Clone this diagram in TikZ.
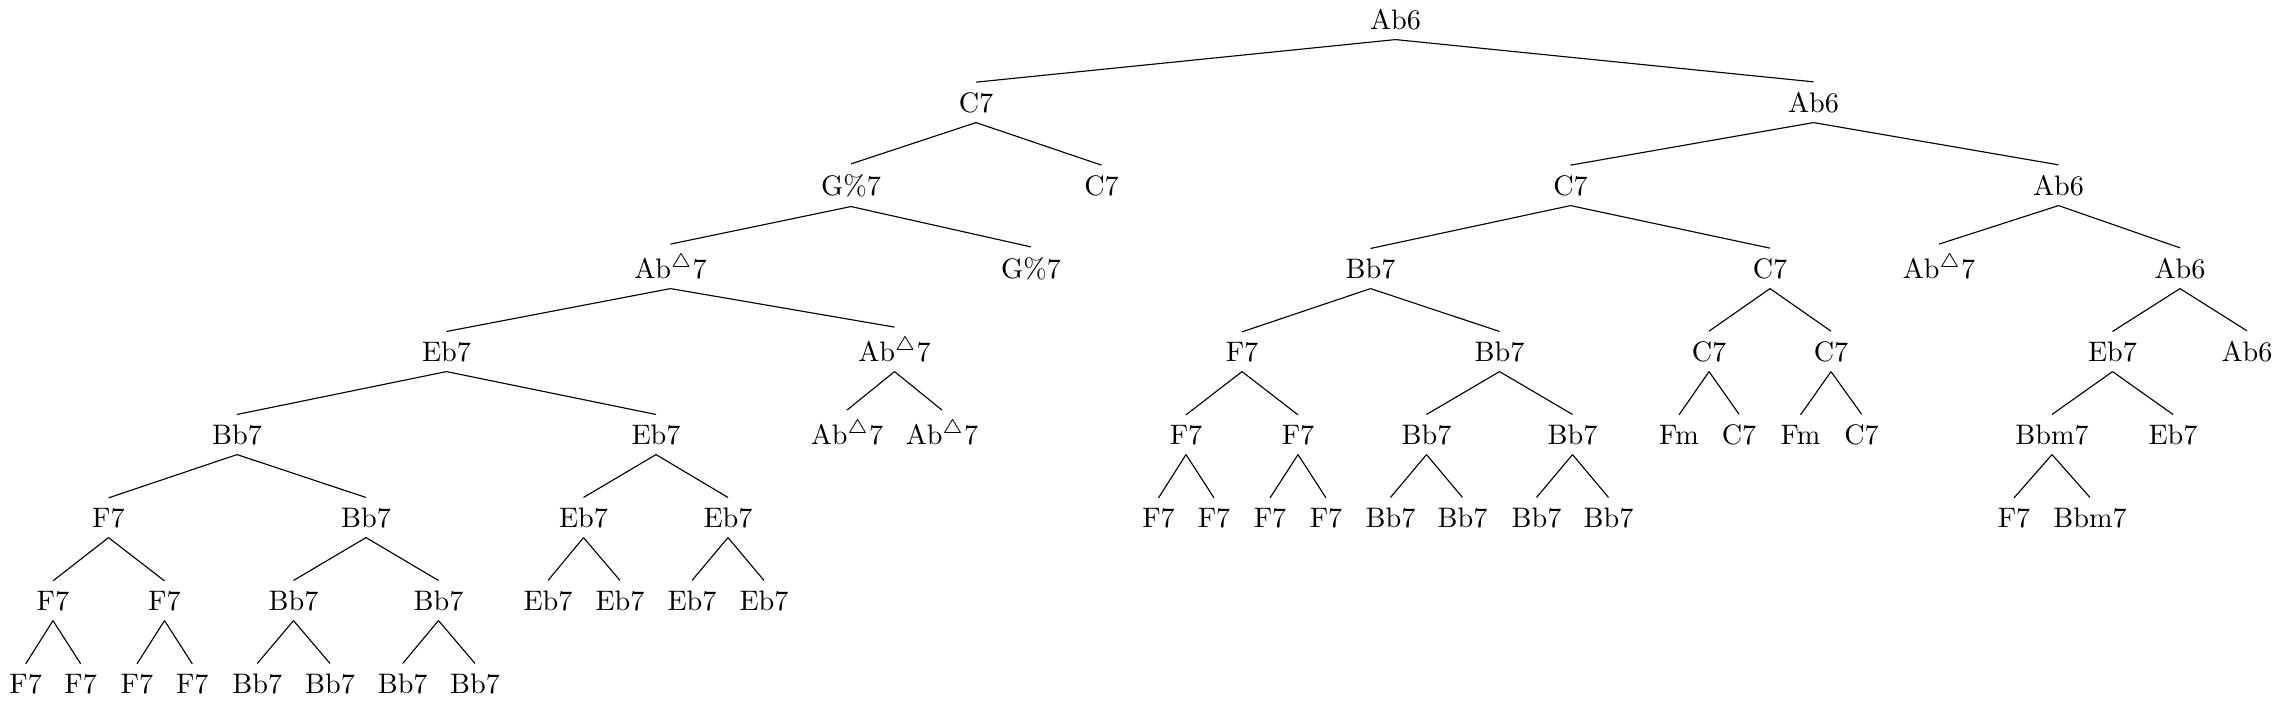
\documentclass[tikz,border=0pt]{standalone}
\begin{document}
\begin{tikzpicture}[x=0.35461pt,y=-0.35461pt,
  chord/.style={anchor=base,inner sep=0.3333em},
  branch/.style={line width=0.4pt}]
\useasboundingbox (0,0) rectangle (2281,702);
\def\AbM{Ab$^{\triangle}$7}
% level 0
\node[chord] (r) at (1395.5,29) {Ab6};
% level 1
\node[chord] (r0) at (976,112) {C7};
\node[chord] (r1) at (1813.5,112) {Ab6};
% level 2
\node[chord] (r00) at (851,195) {G\%7};
\node[chord] (r01) at (1101.5,195) {C7};
\node[chord] (r10) at (1570.5,195) {C7};
\node[chord] (r11) at (2058.5,195) {Ab6};
% level 3
\node[chord] (r000) at (670.5,278) {\AbM};
\node[chord] (r001) at (1031,278) {G\%7};
\node[chord] (r100) at (1370.5,278) {Bb7};
\node[chord] (r101) at (1770,278) {C7};
\node[chord] (r110) at (1939,278) {\AbM};
\node[chord] (r111) at (2180,278) {Ab6};
% level 4
\node[chord] (r0000) at (446.5,361) {Eb7};
\node[chord] (r0001) at (894.5,361) {\AbM};
\node[chord] (r1000) at (1242,361) {F7};
\node[chord] (r1001) at (1499.5,361) {Bb7};
\node[chord] (r1010) at (1709,361) {C7};
\node[chord] (r1011) at (1831,361) {C7};
\node[chord] (r1110) at (2112.5,361) {Eb7};
\node[chord] (r1111) at (2247,361) {Ab6};
% level 5
\node[chord] (r00000) at (237,444) {Bb7};
\node[chord] (r00001) at (656,444) {Eb7};
\node[chord] (r00010) at (847,444) {\AbM};
\node[chord] (r00011) at (942,444) {\AbM};
\node[chord] (r10000) at (1186,444) {F7};
\node[chord] (r10001) at (1298,444) {F7};
\node[chord] (r10010) at (1426.5,444) {Bb7};
\node[chord] (r10011) at (1572.5,444) {Bb7};
\node[chord] (r10100) at (1679,444) {Fm};
\node[chord] (r10101) at (1739,444) {C7};
\node[chord] (r10110) at (1800.5,444) {Fm};
\node[chord] (r10111) at (1861.5,444) {C7};
\node[chord] (r11100) at (2052,444) {Bbm7};
\node[chord] (r11101) at (2173,444) {Eb7};
% level 6
\node[chord] (r000000) at (108.5,527) {F7};
\node[chord] (r000001) at (366,527) {Bb7};
\node[chord] (r000010) at (583.5,527) {Eb7};
\node[chord] (r000011) at (728,527) {Eb7};
\node[chord] (r100000) at (1158.5,527) {F7};
\node[chord] (r100001) at (1214,527) {F7};
\node[chord] (r100010) at (1270,527) {F7};
\node[chord] (r100011) at (1326,527) {F7};
\node[chord] (r100100) at (1390.5,527) {Bb7};
\node[chord] (r100101) at (1462.5,527) {Bb7};
\node[chord] (r100110) at (1536.5,527) {Bb7};
\node[chord] (r100111) at (1608.5,527) {Bb7};
\node[chord] (r111000) at (2014,527) {F7};
\node[chord] (r111001) at (2090,527) {Bbm7};
% level 7
\node[chord] (r0000000) at (53,610) {F7};
\node[chord] (r0000001) at (164.5,610) {F7};
\node[chord] (r0000010) at (293.5,610) {Bb7};
\node[chord] (r0000011) at (438.5,610) {Bb7};
\node[chord] (r0000100) at (548,610) {Eb7};
\node[chord] (r0000101) at (620,610) {Eb7};
\node[chord] (r0000110) at (692,610) {Eb7};
\node[chord] (r0000111) at (764,610) {Eb7};
% level 8
\node[chord] (r00000000) at (25.7,693) {F7};
\node[chord] (r00000001) at (80.7,693) {F7};
\node[chord] (r00000010) at (137,693) {F7};
\node[chord] (r00000011) at (192.3,693) {F7};
\node[chord] (r00000100) at (257.3,693) {Bb7};
\node[chord] (r00000101) at (330,693) {Bb7};
\node[chord] (r00000110) at (402.7,693) {Bb7};
\node[chord] (r00000111) at (475,693) {Bb7};
% edges
\foreach \p in {r,r0,r1,r00,r10,r11,r000,r100,r101,r111,
  r0000,r0001,r1000,r1001,r1010,r1011,r1110,
  r00000,r00001,r10000,r10001,r10010,r10011,r11100,
  r000000,r000001,r000010,r000011,
  r0000000,r0000001,r0000010,r0000011}{
  \draw[branch] (\p.south) -- (\p0.north);
  \draw[branch] (\p.south) -- (\p1.north);
}
\end{tikzpicture}
\end{document}
